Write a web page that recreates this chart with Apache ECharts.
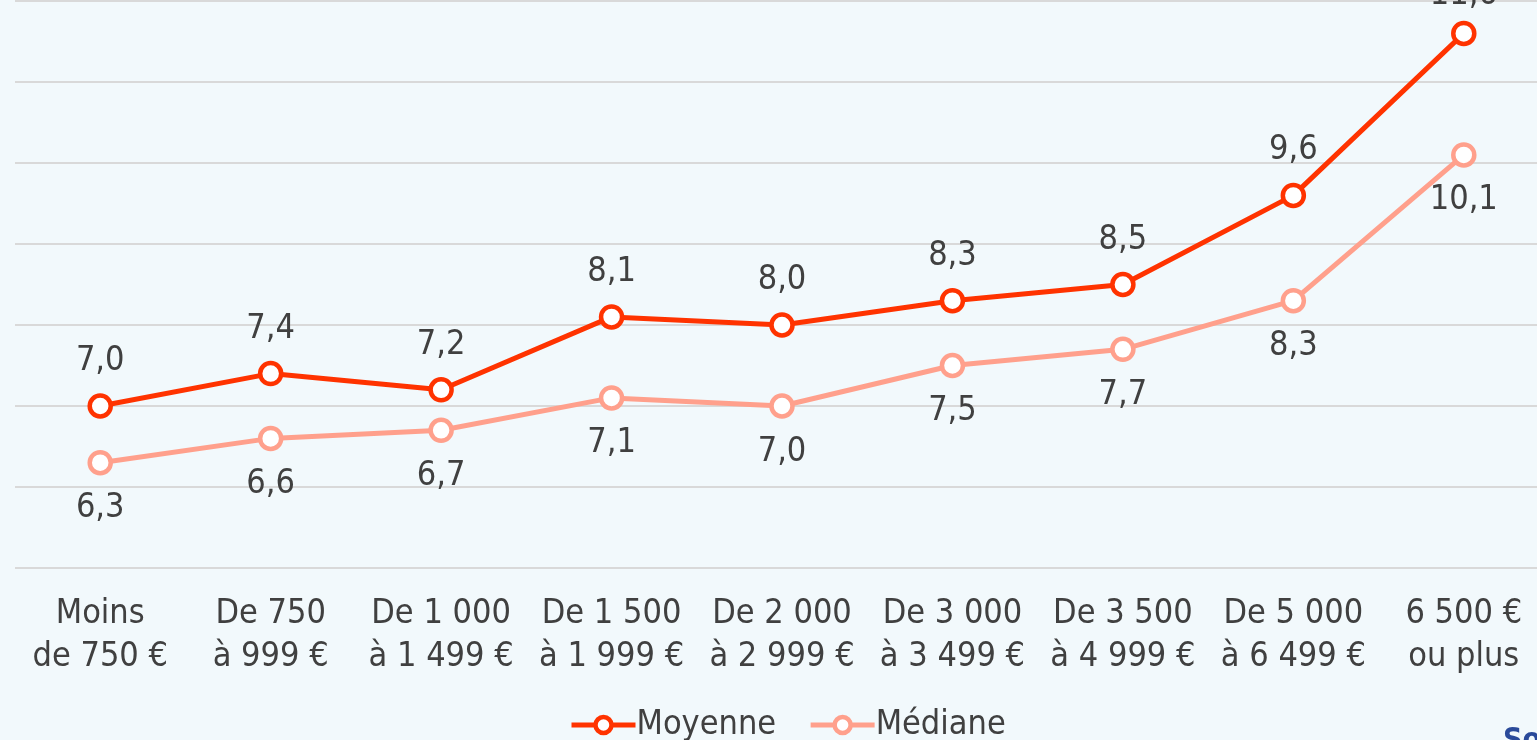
<!DOCTYPE html>
<html>
<head>
<meta charset="utf-8">
<script src="https://cdn.jsdelivr.net/npm/echarts@6/dist/echarts.min.js"></script>
<style>
    html, body { margin: 0; padding: 0; background: #f2f9fc; overflow: hidden; }
    #chart { width: 1549px; height: 740px; }
</style>
</head>
<body>
<div id="chart"></div>
<script>
var categories = ['Moins\nde 750 €', 'De 750\nà 999 €', 'De 1 000\nà 1 499 €', 'De 1 500\nà 1 999 €',
    'De 2 000\nà 2 999 €', 'De 3 000\nà 3 499 €', 'De 3 500\nà 4 999 €', 'De 5 000\nà 6 499 €', '6 500 €\nou plus'];
var moyenne = [7.0, 7.4, 7.2, 8.1, 8.0, 8.3, 8.5, 9.6, 11.6];
var mediane = [6.3, 6.6, 6.7, 7.1, 7.0, 7.5, 7.7, 8.3, 10.1];

var font = '"DejaVu Sans Condensed", "DejaVu Sans", sans-serif';
var textColor = '#404040';

// the plot runs a bit past the right edge of the window, like the original crop
var chart = echarts.init(document.getElementById('chart'));

function fmt(p) {
    return p.value.toFixed(1).replace('.', ',');
}

function lineSeries(name, data, color, pos, dist) {
    return {
        name: name,
        type: 'line',
        data: data,
        symbol: 'circle',
        symbolSize: 21,
        lineStyle: { color: color, width: 5 },
        itemStyle: { color: '#ffffff', borderColor: color, borderWidth: 4.5 },
        label: {
            show: true,
            position: pos,
            distance: dist,
            formatter: fmt,
            color: textColor,
            fontFamily: font,
            fontSize: 34
        },
        emphasis: { disabled: true },
        animation: false
    };
}

// last label of Moyenne sits a little closer to its point (cut by the top edge)
var moyenneData = moyenne.map(function (v, i) {
    if (i == moyenne.length - 1) {
        return { value: v, label: { distance: 8 } };
    }
    return v;
});

var option = {
    backgroundColor: '#f2f9fc',
    graphic: [{
        type: 'text',
        left: 1503,
        top: 726,
        style: { text: 'Source', fill: '#2a4a9a', font: 'bold 30px ' + font }
    }],
    legend: {
        left: 564,
        top: 703,
        itemWidth: 64,
        itemHeight: 20,
        itemGap: 32,
        data: ['Moyenne', 'Médiane'],
        lineStyle: { width: 5 },
        itemStyle: { borderWidth: 4.5 },
        textStyle: { color: textColor, fontFamily: font, fontSize: 34, padding: [0, 0, 0, -4] }
    },
    grid: { left: 15, right: 0, top: 1, height: 567 },
    xAxis: {
        type: 'category',
        data: categories,
        axisLine: { show: false },
        axisTick: { show: false },
        axisLabel: {
            interval: 0,
            margin: 25,
            color: textColor,
            fontFamily: font,
            fontSize: 34,
            lineHeight: 43
        }
    },
    yAxis: {
        type: 'value',
        min: 5,
        max: 12,
        interval: 1,
        axisLabel: { show: false },
        axisLine: { show: false },
        axisTick: { show: false },
        splitLine: { lineStyle: { color: '#d9d9d9', width: 2 } }
    },
    series: [
        lineSeries('Moyenne', moyenneData, '#ff3300', 'top', 15),
        lineSeries('Médiane', mediane, '#ffa08c', 'bottom', 16)
    ]
};

chart.setOption(option);
</script>
</body>
</html>
